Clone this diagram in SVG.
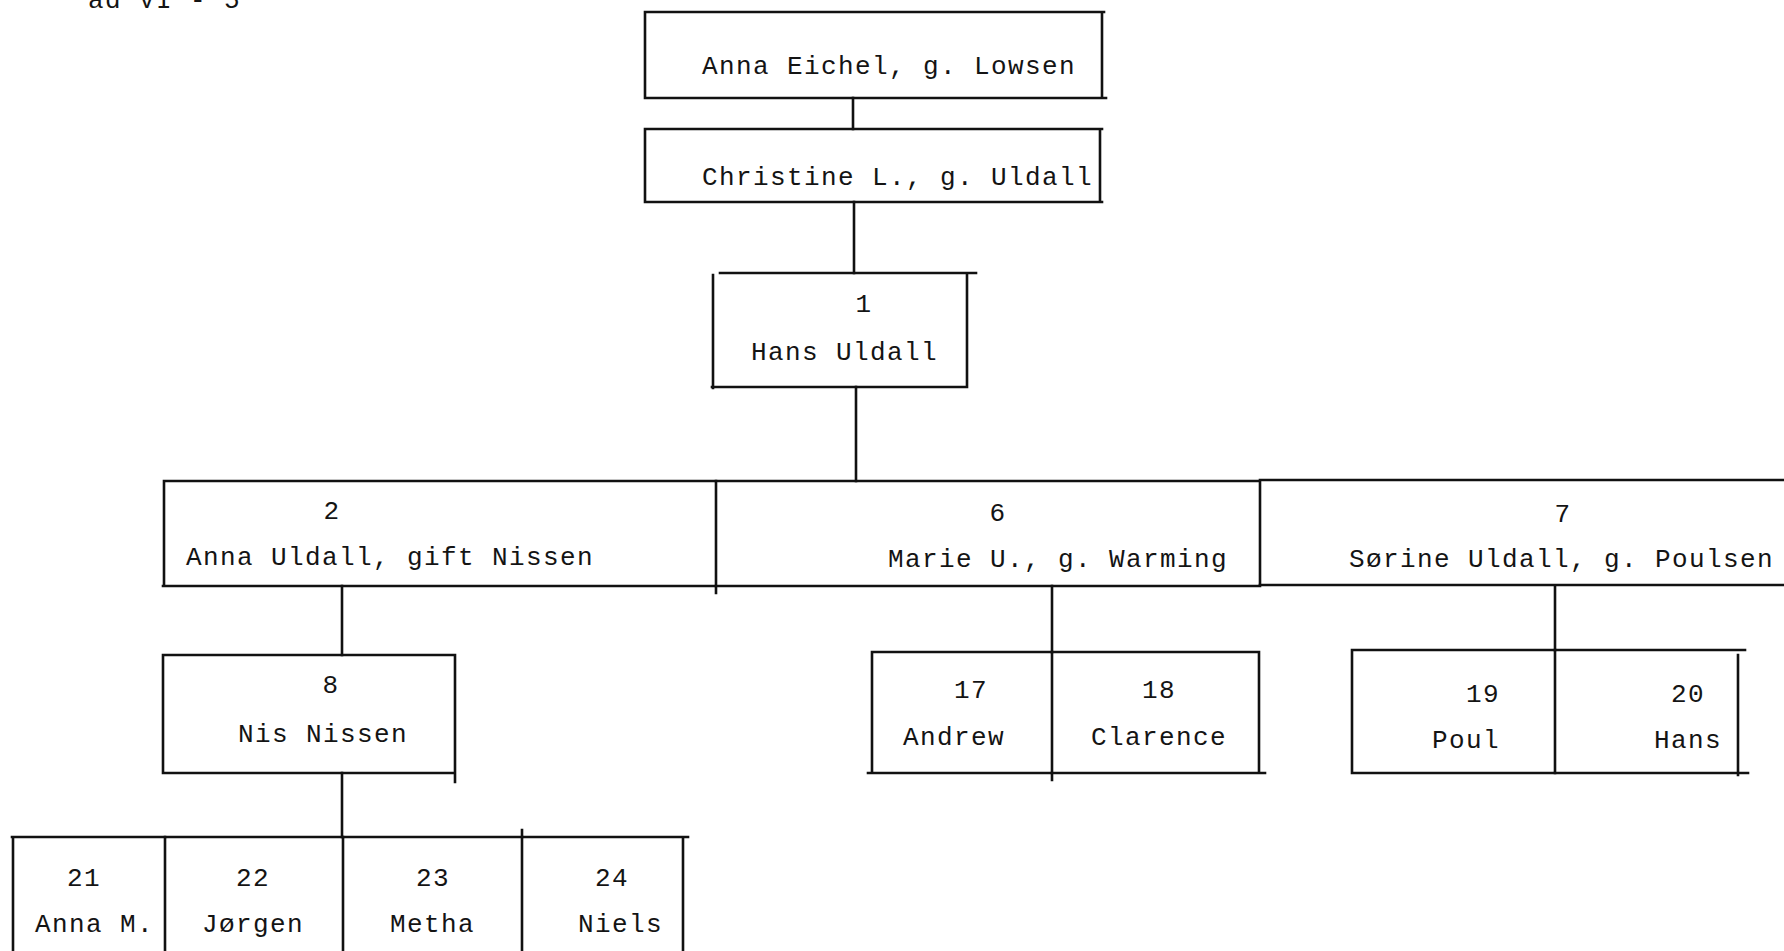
<svg xmlns="http://www.w3.org/2000/svg" width="1784" height="951" viewBox="0 0 1784 951">
<style>
.ln{stroke:#111;stroke-width:2.6;fill:none;stroke-linecap:square}
.t{font-family:"Liberation Mono","DejaVu Sans Mono",monospace;font-size:26px;letter-spacing:1.4px;fill:#141414}
.c{text-anchor:middle}
.e{text-anchor:end}
</style>
<rect width="1784" height="951" fill="#fff"/>
<text class="t" x="88" y="8">ad VI - 5</text>

<g id="connectors" class="ln">
<path d="M853 98V129"/>
<path d="M854 202V273"/>
<path d="M856 387V481"/>
<path d="M342 586V655"/>
<path d="M1052 586V652"/>
<path d="M1555 586V650"/>
<path d="M342 773V837"/>
</g>

<g id="n-anna-eichel">
<path class="ln" d="M645 12H1104M645 12V98M1102 12V98M647 98H1106"/>
<text class="t" x="702" y="74">Anna Eichel, g. Lowsen</text>
</g>
<g id="n-christine">
<path class="ln" d="M645 129H1102M645 129V202M1100 129V202M645 202H1102"/>
<text class="t" x="702" y="185">Christine L., g. Uldall</text>
</g>
<g id="n1">
<path class="ln" d="M720 273H976M713 275V388M967 273V387M712 387H967"/>
<text class="t c" x="864" y="312">1</text>
<text class="t" x="751" y="360">Hans Uldall</text>
</g>

<g id="n2">
<path class="ln" d="M164 481H716M164 481V586M163 586H716M716 481V593"/>
<text class="t c" x="332" y="519">2</text>
<text class="t" x="186" y="565">Anna Uldall, gift Nissen</text>
</g>
<g id="n6">
<path class="ln" d="M716 481H1260M716 586H1260M1260 481V586"/>
<text class="t c" x="998" y="521">6</text>
<text class="t" x="888" y="567">Marie U., g. Warming</text>
</g>
<g id="n7">
<path class="ln" d="M1260 480H1784M1260 585H1784"/>
<text class="t c" x="1563" y="522">7</text>
<text class="t" x="1349" y="567">Sørine Uldall, g. Poulsen</text>
</g>

<g id="n8">
<path class="ln" d="M163 655H455M163 655V773M455 655V782M165 773H455"/>
<text class="t c" x="331" y="693">8</text>
<text class="t" x="238" y="742">Nis Nissen</text>
</g>

<g id="n17">
<path class="ln" d="M872 652H1052M872 652V773M868 773H1052M1052 652V780"/>
<text class="t c" x="971" y="698">17</text>
<text class="t" x="903" y="745">Andrew</text>
</g>
<g id="n18">
<path class="ln" d="M1052 652H1259M1259 652V773M1052 773H1265"/>
<text class="t c" x="1159" y="698">18</text>
<text class="t" x="1091" y="745">Clarence</text>
</g>

<g id="n19">
<path class="ln" d="M1352 650H1555M1352 650V773M1352 773H1555M1555 650V773"/>
<text class="t e" x="1500" y="702">19</text>
<text class="t e" x="1500" y="748">Poul</text>
</g>
<g id="n20">
<path class="ln" d="M1555 650H1745M1738 655V775M1555 773H1748"/>
<text class="t e" x="1705" y="702">20</text>
<text class="t e" x="1722" y="748">Hans</text>
</g>

<g id="n21">
<path class="ln" d="M12 837H165M13 837V951"/>
<text class="t c" x="84" y="886">21</text>
<text class="t" x="35" y="932">Anna M.</text>
</g>
<g id="n22">
<path class="ln" d="M165 837H343M165 837V951"/>
<text class="t c" x="253" y="886">22</text>
<text class="t" x="202" y="932">Jørgen</text>
</g>
<g id="n23">
<path class="ln" d="M343 837H522M343 837V951"/>
<text class="t c" x="433" y="886">23</text>
<text class="t" x="390" y="932">Metha</text>
</g>
<g id="n24">
<path class="ln" d="M522 837H688M522 830V951M683 837V951"/>
<text class="t c" x="612" y="886">24</text>
<text class="t" x="578" y="932">Niels</text>
</g>
</svg>
